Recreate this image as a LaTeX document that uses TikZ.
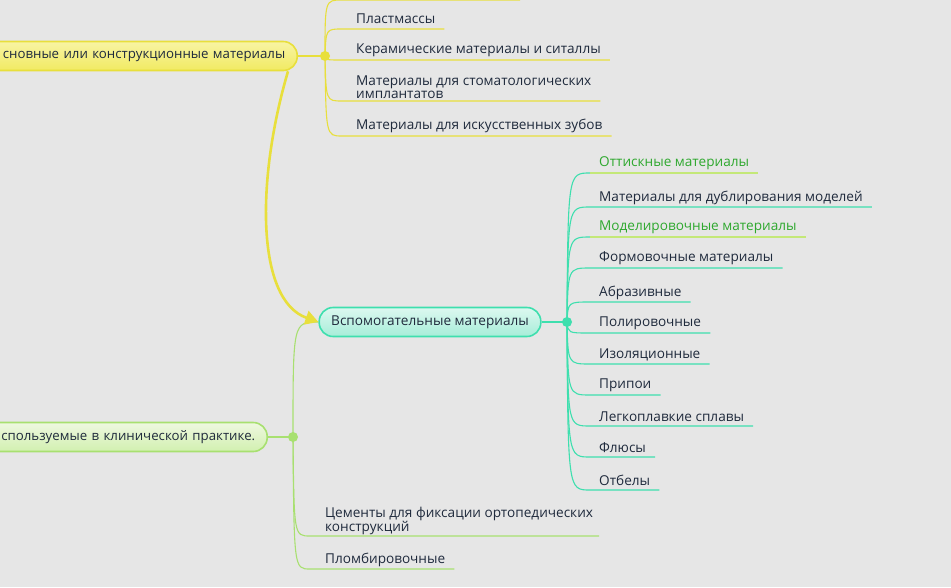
\documentclass[tikz,border=0pt]{standalone}
\usepackage{fontspec}
\setmainfont{Open Sans}
\usetikzlibrary{arrows.meta}
\definecolor{bgc}{HTML}{E6E6E6}
\definecolor{cYl}{HTML}{E8DF3C}
\definecolor{cYlT}{HTML}{F8F4A4}
\definecolor{cYlB}{HTML}{F1EA62}
\definecolor{cTl}{HTML}{3EDFAE}
\definecolor{cTlT}{HTML}{DDF8F0}
\definecolor{cTlB}{HTML}{A6EDD8}
\definecolor{cGr}{HTML}{A8E070}
\definecolor{cGrT}{HTML}{EEF8E0}
\definecolor{cGrB}{HTML}{D2F0B0}
\definecolor{cGl}{HTML}{C4E878}
\definecolor{ctx}{HTML}{1F2A3C}
\definecolor{cgtx}{HTML}{2EA82E}
\begin{document}
\begin{tikzpicture}[x=1pt,y=-1pt,
  font=\fontsize{13.6}{12.5}\selectfont,
  lbl/.style={anchor=west,inner sep=0pt,text=ctx,align=left},
  glbl/.style={lbl,text=cgtx},
  rootbox/.style={rounded corners=14pt,minimum height=29pt,inner xsep=12pt,line width=1.6pt,text=ctx},
  sidebox/.style={rootbox,anchor=east,align=right,font=\fontsize{13.25}{12.5}\selectfont},
  dotn/.style={circle,inner sep=0pt,minimum size=10pt},
  ybr/.style={draw=cYl,line width=1.1pt},
  tbr/.style={draw=cTl,line width=1.1pt},
  gbr/.style={draw=cGr,line width=1.1pt},
  glin/.style={draw=cGl,line width=1.1pt}]
\fill[bgc] (0,0) rectangle (951,587);
\useasboundingbox (0,0) rectangle (951,587);
\clip (0,0) rectangle (951,587);

% root-like nodes
\node[sidebox,draw=cYl,top color=cYlT,bottom color=cYlB,text width=330pt] (Y) at (298,56) {сновные или конструкционные материалы};
\node[rootbox,draw=cTl,top color=cTlT,bottom color=cTlB] (T) at (430,322) {Вспомогательные материалы};
\node[sidebox,draw=cGr,top color=cGrT,bottom color=cGrB,text width=300pt] (G) at (268,437) {спользуемые в клинической практике.};

% dots
\node[dotn,fill=cYl] (Yd) at (325,56) {};
\node[dotn,fill=cTl] (Td) at (567,322) {};
\node[dotn,fill=cGr] (Gd) at (293,437) {};
\draw[ybr] (Y.east) -- (Yd.center);
\draw[tbr] (T.east) -- (Td.center);
\draw[gbr] (G.east) -- (Gd.center);

% yellow branches
\coordinate (ytop) at (342,0);
\draw[ybr] (Yd.center) .. controls (325,0) .. (ytop) -- (520,0);
\foreach \n/\yu/\yt/\t in {a/29/19/{Пластмассы},b/60/50/{Керамические материалы и ситаллы},c/101/87/{Материалы для стоматологических\\имплантатов},d/136/126/{Материалы для искусственных зубов}}{
  \node[lbl] (y\n) at (356,\yt) {\t};
  \coordinate (yu\n) at (342,\yu);
  \draw[ybr] (Yd.center) .. controls (326,\yu) .. (yu\n) -- (yu\n -| y\n.east) -- ++(9,0);
}
% teal branches
\foreach \n/\yu/\t in {b/207/{Материалы для дублирования моделей},d/268/{Формовочные материалы},e/302/{Абразивные},f/333/{Полировочные},g/364/{Изоляционные},h/395/{Припои},i/426/{Легкоплавкие сплавы},j/457/{Флюсы},k/490/{Отбелы}}{
  \node[lbl] (t\n) at (599,\yu-9.5) {\t};
  \coordinate (tu\n) at (590,\yu);
  \draw[tbr] (Td.center) .. controls (568,\yu) .. (tu\n) -- (tu\n -| t\n.east) -- ++(9,0);
}
\foreach \n/\yu/\t in {a/173/{Оттискные материалы},c/237/{Моделировочные материалы}}{
  \node[glbl] (t\n) at (599,\yu-9.5) {\t};
  \coordinate (tu\n) at (590,\yu);
  \draw[tbr] (Td.center) .. controls (568,\yu) .. (tu\n);
  \draw[glin] (tu\n) -- (tu\n -| t\n.east) -- ++(9,0);
}

% green branches
\draw[gbr] (Gd.center) .. controls (293,322) .. (T.west);
\node[lbl] (ga) at (325,521) {Цементы для фиксации ортопедических\\конструкций};
\coordinate (gua) at (310,536);
\draw[gbr] (Gd.center) .. controls (294,536) .. (gua) -- (gua -| ga.east) -- ++(6,0);
\node[lbl] (gb) at (325,560) {Пломбировочные};
\coordinate (gub) at (310,569);
\draw[gbr] (Gd.center) .. controls (294,569) .. (gub) -- (gub -| gb.east) -- ++(9,0);

% relationship arrow
\draw[cYl,line width=2.6pt,-{Triangle[length=13pt,width=14pt]}] ([xshift=-10pt]Y.south east) .. controls (256,180) and (256,300) .. (T.west);
\end{tikzpicture}
\end{document}
